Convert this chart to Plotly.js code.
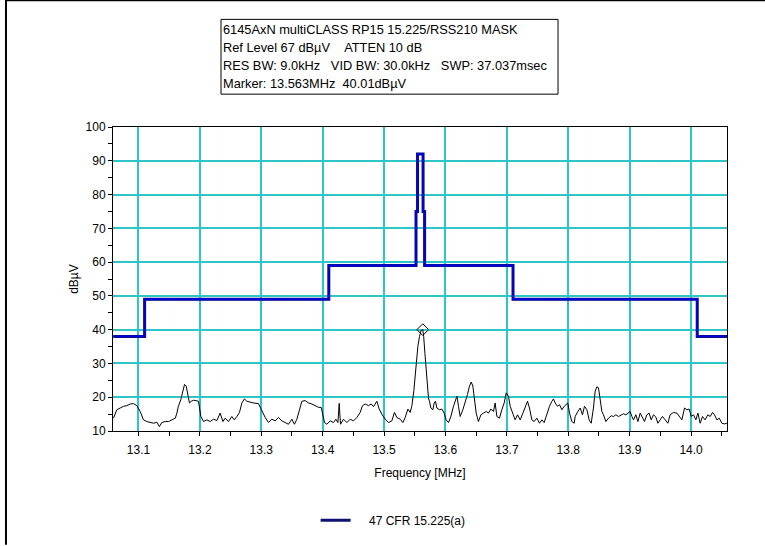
<!DOCTYPE html>
<html>
<head>
<meta charset="utf-8">
<script src="https://cdn.plot.ly/plotly-3.0.1.min.js"></script>
<style>html,body{margin:0;padding:0;background:#fff;}#chart{width:765px;height:546px;}</style>
</head>
<body>
<div id="chart"></div>
<script>
// ---- Data ----
var headerLines = [
  "6145AxN multiCLASS RP15 15.225/RSS210 MASK",
  "Ref Level 67 dB\u00b5V\u00a0\u00a0\u00a0\u00a0ATTEN 10 dB",
  "RES BW: 9.0kHz\u00a0\u00a0\u00a0VID BW: 30.0kHz\u00a0\u00a0\u00a0SWP: 37.037msec",
  "Marker: 13.563MHz\u00a0\u00a040.01dB\u00b5V"
];
var maskName = "47 CFR 15.225(a)";

var maskFreq  = [13.059, 13.11, 13.11, 13.41, 13.41, 13.552, 13.552, 13.5545, 13.5545, 13.5635, 13.5635, 13.566, 13.566, 13.71, 13.71, 14.01, 14.01, 14.059];
var maskLevel = [38, 38, 49, 49, 59, 59, 75, 75, 92, 92, 75, 75, 59, 59, 49, 49, 38, 38];

var traceFreq = [
 13.0593,13.0648,13.0702,13.0756,13.0811,13.0865,13.0919,13.0974,13.1028,13.1081,
 13.1137,13.119,13.1244,13.13,13.134,13.138,13.1435,13.149,13.1544,13.16,
 13.1625,13.165,13.169,13.1723,13.175,13.1777,13.1805,13.183,13.1858,13.1896,
 13.194,13.1977,13.2016,13.206,13.2114,13.2168,13.2222,13.2277,13.233,13.2375,
 13.2412,13.2466,13.252,13.2559,13.2603,13.2645,13.2684,13.2726,13.2765,13.2819,
 13.2873,13.2954,13.301,
 13.3064,13.3117,13.3172,13.3226,13.328,13.3335,13.3389,13.3443,13.3498,13.354,
 13.358,13.3622,13.3661,13.3715,13.3769,13.3824,13.3878,13.3932,13.3976,13.3997,
 13.403,13.4068,13.4122,13.4176,13.4215,13.4248,13.4269,13.429,13.4339,13.4394,
 13.4448,13.4502,13.4557,13.4611,13.4648,13.4692,13.4746,13.479,13.4827,13.4883,
 13.492,13.4964,13.5018,13.5072,13.5127,13.5169,13.5208,13.5262,13.5306,13.5344,
 13.5388,13.5425,13.5453,13.5485,13.5518,13.555,13.5577,13.5604,13.563,13.5645,
 13.5665,13.5685,13.5705,
 13.5723,13.5739,13.5762,13.5795,13.5816,13.5837,13.586,13.5902,13.5941,13.5979,
 13.6011,13.6049,13.6088,13.613,13.6158,13.6186,13.6212,13.6239,13.6283,13.6321,
 13.6358,13.6391,13.6419,13.6446,13.6472,13.65,13.6537,13.6577,13.6619,13.6663,
 13.67,13.6739,13.6782,13.6809,13.6837,13.6879,13.6918,13.6956,13.6989,13.7026,
 13.7054,13.7098,13.7135,13.7173,13.7217,13.7261,13.7298,13.7336,13.7368,13.7407,
 13.7445,13.7489,13.7531,13.757,13.7607,13.7651,13.7694,13.7733,13.7759,13.7787,
 13.7824,13.7857,13.7896,13.7933,13.7966,13.7993,13.802,13.8059,13.8096,
 13.8112,13.8156,13.8194,13.8231,13.8264,13.8303,13.834,13.8373,13.841,13.8438,
 13.8466,13.8492,13.852,13.8547,13.8573,13.8612,13.8655,13.8699,13.8736,13.8775,
 13.8818,13.8862,13.8899,13.8938,13.898,13.9008,13.9036,13.9062,13.9101,13.9134,
 13.9171,13.9208,13.9241,13.928,13.9317,13.935,13.9388,13.9427,13.9459,13.9497,
 13.9534,13.9578,13.9622,13.9659,13.9713,13.9769,13.9806,13.985,13.9893,13.9932,
 13.9969,14.0002,14.0039,14.0078,14.0111,14.0148,14.0186,14.0229,14.0273,14.0311,
 14.0349,14.0381,14.042,14.0458,14.0502,14.0544,14.0583
];
var traceLevel = [
 13.8,16.3,16.8,17.3,17.5,18.0,18.1,17.5,15.8,13.3,
 12.8,12.5,12.3,12.6,11.3,12.5,12.8,12.8,13.3,13.8,
 15.3,17.3,19.3,21.8,23.8,23.3,20.8,18.3,18.8,19.1,
 19.0,18.8,14.3,12.8,13.3,12.8,13.5,13.1,15.3,12.8,
 13.8,12.8,14.3,13.3,14.3,15.5,18.3,19.5,18.8,18.5,
 18.3,18.1,15.8,
 14.0,12.5,13.5,13.0,14.0,13.0,12.5,12.0,13.5,12.0,
 13.5,16.5,18.8,19.0,18.3,18.0,17.5,17.0,17.0,15.0,
 12.5,12.0,13.0,12.5,13.5,12.5,18.2,12.0,13.5,12.5,
 13.5,13.0,14.0,15.5,17.5,18.0,17.5,18.0,17.2,18.8,
 16.5,15.0,13.5,12.5,13.0,15.5,14.0,13.5,12.5,14.0,
 16.5,15.5,17.5,22.0,29.0,35.0,38.0,39.8,40.01,38.0,
 33.0,28.0,23.0,
 19.8,18.8,16.8,16.3,18.3,18.8,16.8,16.3,16.5,15.3,
 13.3,12.5,14.3,17.3,18.8,20.3,17.3,14.3,16.3,18.3,
 20.8,23.3,24.5,23.3,19.3,15.3,12.8,14.8,15.3,15.8,
 15.3,16.5,15.8,18.3,14.3,13.8,16.3,18.3,21.3,20.3,
 17.3,15.3,13.3,14.8,13.3,15.3,17.3,18.8,16.8,13.3,
 12.8,13.8,12.3,13.3,12.5,15.3,17.3,18.8,19.5,18.3,
 17.3,17.8,16.3,17.3,17.8,18.3,15.3,12.8,12.3,
 14.3,15.8,16.8,14.8,17.3,16.3,13.3,12.3,16.8,21.8,
 23.1,22.8,18.3,15.8,14.8,12.8,13.8,14.5,14.3,14.8,
 14.3,14.8,15.1,14.8,15.5,15.8,14.3,13.3,14.8,12.8,
 15.3,13.8,12.8,14.8,15.3,13.3,14.8,14.1,12.3,13.3,
 14.3,13.3,12.3,14.8,15.5,15.3,14.3,13.3,16.8,16.3,
 16.5,14.3,14.8,13.3,15.3,12.3,14.3,13.3,14.8,14.3,
 15.5,14.8,13.3,13.8,12.3,12.1,12.3
];
var markerFreq = [13.563];
var markerLevel = [40.01];

var xTickVals = [13.1,13.2,13.3,13.4,13.5,13.6,13.7,13.8,13.9,14.0];
var xTickText = ["13.1","13.2","13.3","13.4","13.5","13.6","13.7","13.8","13.9","14.0"];

// ---- Chart ----
var FONT = "Liberation Sans, Arial, sans-serif";
var data = [
  {x: maskFreq, y: maskLevel, mode: "lines", name: "\u00a0\u00a0\u00a0\u00a0" + maskName,
   line: {color: "#101070", width: 3, shape: "linear"}, showlegend: true, hoverinfo: "skip"},
  {x: maskFreq, y: maskLevel, mode: "lines", name: maskName,
   line: {color: "#0000dd", width: 1.8}, showlegend: false, hoverinfo: "skip"},
  {x: traceFreq, y: traceLevel, mode: "lines", name: "trace",
   line: {color: "#000000", width: 1}, showlegend: false},
  {x: markerFreq, y: markerLevel, mode: "markers", name: "marker", showlegend: false,
   marker: {symbol: "diamond-open", size: 9, color: "#000000", line: {width: 1, color: "#000000"}}}
];

var annotations = headerLines.map(function(t, i){
  return {xref: "paper", yref: "paper", x: 0.1765, y: [1.3213,1.2623,1.2033,1.1443][i],
    xanchor: "left", yanchor: "middle", showarrow: false, text: t,
    font: {family: FONT, size: 12.8, color: "#000"}};
});

var layout = {
  width: 765, height: 546,
  margin: {l: 113, r: 38, t: 127, b: 114},
  paper_bgcolor: "#ffffff", plot_bgcolor: "#ffffff",
  font: {family: FONT, size: 12, color: "#000"},
  showlegend: true,
  legend: {orientation: "h", x: 0.33, xanchor: "left", y: -0.289, yanchor: "middle",
           font: {family: FONT, size: 12, color: "#000"}, bgcolor: "rgba(0,0,0,0)"},
  xaxis: {
    range: [13.0585, 14.0585], tickvals: xTickVals, ticktext: xTickText,
    showgrid: true, gridcolor: "#2cc6c6", gridwidth: 2,
    showline: true, linecolor: "#000", linewidth: 1, mirror: true,
    ticks: "outside", ticklen: 4, tickcolor: "#000", ticklabelstandoff: 4,
    minor: {dtick: 0.05, tick0: 13.0, ticks: "outside", ticklen: 4, tickcolor: "#000", showgrid: false},
    zeroline: false, tickfont: {family: FONT, size: 12},
    title: {text: "Frequency [MHz]", font: {family: FONT, size: 12}, standoff: 12}
  },
  yaxis: {
    range: [10, 100], dtick: 10, tick0: 0,
    showgrid: true, gridcolor: "#2cc6c6", gridwidth: 2,
    showline: true, linecolor: "#000", linewidth: 1, mirror: true,
    ticks: "outside", ticklen: 4, tickcolor: "#000",
    minor: {dtick: 5, ticks: "outside", ticklen: 4, tickcolor: "#000", showgrid: false},
    zeroline: false, tickfont: {family: FONT, size: 12},
    title: {text: "dB\u00b5V", font: {family: FONT, size: 12}, standoff: 4}
  },
  annotations: annotations,
  shapes: [
    {type: "rect", xref: "paper", yref: "paper", x0: 0.1759, x1: 0.7248, y0: 1.108, y1: 1.354,
     line: {color: "#000", width: 1}, fillcolor: "rgba(0,0,0,0)"},
    {type: "line", xref: "paper", yref: "paper", x0: -0.1743, x1: 1.062, y0: 1.417, y1: 1.417,
     line: {color: "#000", width: 2}},
    {type: "line", xref: "paper", yref: "paper", x0: -0.1743, x1: -0.1743, y0: -0.374, y1: 1.42,
     line: {color: "#000", width: 2}}
  ]
};

Plotly.newPlot("chart", data, layout, {displayModeBar: false, staticPlot: true});
</script>
</body>
</html>
